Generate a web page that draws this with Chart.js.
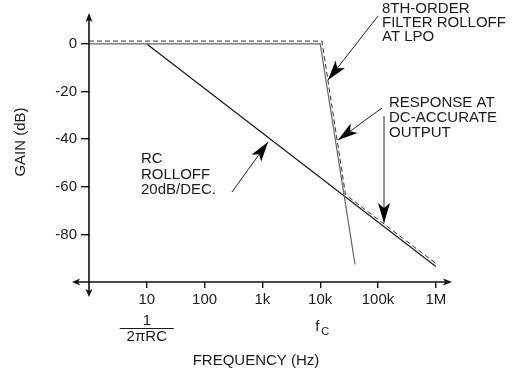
<!DOCTYPE html>
<html>
<head>
<meta charset="utf-8">
<script src="https://cdn.jsdelivr.net/npm/chart.js@4.4.1/dist/chart.umd.min.js"></script>
<style>
html, body { margin: 0; padding: 0; background: #fff; }
#wrap { width: 515px; height: 372px; }
</style>
</head>
<body>
<div id="wrap"><canvas id="bode" width="515" height="372"></canvas></div>
<script>
// ticks
const freqTicks = [10, 100, 1e3, 1e4, 1e5, 1e6];
const freqTickLabels = ['10', '100', '1k', '10k', '100k', '1M'];
const gainTicks = [0, -20, -40, -60, -80];

// RC rolloff (Hz, dB)
const rcFreq = [10, 1e6];
const rcGain = [0, -93.5];

// 8th-order filter at LPO
const filterFreq = [1, 1e4, 4.0e4];
const filterGain = [0, 0, -92.6];

// response at DC-accurate output
const dcFreq = [1, 1.07e4, 2.74e4, 1e6];
const dcGain = [1.2, 1.2, -63.3, -92.2];

const FONT = '"Liberation Sans", Arial, sans-serif';
const INK = '#1a1a1a';

let toPts = (xs, ys) => xs.map((x, i) => ({ x: x, y: ys[i] }));

const data = {
  datasets: [
    {
      label: 'DC-accurate output',
      data: toPts(dcFreq, dcGain),
      borderColor: '#333',
      borderWidth: 1,
      borderDash: [5, 3]
    },
    {
      label: '8th-order filter',
      data: toPts(filterFreq, filterGain),
      borderColor: '#666',
      borderWidth: 1.2
    },
    {
      label: 'RC rolloff',
      data: toPts(rcFreq, rcGain),
      borderColor: '#111',
      borderWidth: 1.1
    }
  ]
};

// little helpers for the arrows
function arrowHead(ctx, tx, ty, fx, fy, len, half) {
  const ang = Math.atan2(ty - fy, tx - fx);
  const c = Math.cos(ang), s = Math.sin(ang);
  const bx = tx - c * len, by = ty - s * len;
  const nx = tx - c * len * 0.75, ny = ty - s * len * 0.75;
  ctx.beginPath();
  ctx.moveTo(tx, ty);
  ctx.lineTo(bx - s * half, by + c * half);
  ctx.lineTo(nx, ny);
  ctx.lineTo(bx + s * half, by - c * half);
  ctx.closePath();
  ctx.fill();
}

function arrow(ctx, fx, fy, tx, ty) {
  ctx.beginPath();
  ctx.moveTo(fx, fy);
  ctx.lineTo(tx, ty);
  ctx.stroke();
  arrowHead(ctx, tx, ty, fx, fy, 20, 6);
}

function textLines(ctx, lines, x, y0, step) {
  lines.forEach((t, i) => ctx.fillText(t, x, y0 + i * step));
}

const extras = {
  id: 'extras',
  afterDraw(chart) {
    const { ctx, chartArea } = chart;
    const xs = chart.scales.x, ys = chart.scales.y;
    const ax = xs.getPixelForValue(1);
    const ay = ys.getPixelForValue(-100);

    ctx.save();
    ctx.strokeStyle = '#111';
    ctx.fillStyle = '#111';
    ctx.lineWidth = 1.6;

    // axes with arrows
    ctx.beginPath();
    ctx.moveTo(ax, chartArea.top + 6);
    ctx.lineTo(ax, ay + 10);
    ctx.moveTo(ax - 12, ay);
    ctx.lineTo(chartArea.right - 6, ay);
    ctx.stroke();
    arrowHead(ctx, ax, chartArea.top, ax, chartArea.top + 10, 9, 3.5);
    arrowHead(ctx, ax, ay + 15, ax, ay, 8, 3.5);
    arrowHead(ctx, ax - 17, ay, ax, ay, 8, 3.5);
    arrowHead(ctx, chartArea.right, ay, chartArea.right - 10, ay, 9, 3.5);

    // annotation arrows
    ctx.lineWidth = 1;
    ctx.strokeStyle = '#222';
    ctx.fillStyle = '#000';
    arrow(ctx, 232, 192, 268, 142);
    arrow(ctx, 378, 16, 328, 80);
    arrow(ctx, 382, 108, 338, 140);
    arrow(ctx, 384, 116, 384, 223);

    // texts
    ctx.fillStyle = INK;
    ctx.font = '15px ' + FONT;
    ctx.textAlign = 'left';
    ctx.textBaseline = 'middle';
    textLines(ctx, ['RC', 'ROLLOFF', '20dB/DEC.'], 141, 159, 15.5);
    textLines(ctx, ['8TH-ORDER', 'FILTER ROLLOFF', 'AT LPO'], 382, 8.5, 14);
    textLines(ctx, ['RESPONSE AT', 'DC-ACCURATE', 'OUTPUT'], 389, 102.5, 15);

    ctx.textAlign = 'center';
    ctx.fillText('FREQUENCY (Hz)', 256, 361);

    // 1 / 2piRC under the 10 Hz tick
    const x10 = xs.getPixelForValue(10);
    ctx.fillText('1', x10, 321);
    ctx.fillText('2\u03c0RC', x10, 337);
    ctx.lineWidth = 1;
    ctx.strokeStyle = INK;
    ctx.beginPath();
    ctx.moveTo(x10 - 27, 328.5);
    ctx.lineTo(x10 + 27, 328.5);
    ctx.stroke();

    // f_C under the 10k tick
    const xc = xs.getPixelForValue(1e4);
    ctx.textAlign = 'left';
    ctx.textBaseline = 'alphabetic';
    ctx.fillText('f', xc - 5, 331);
    ctx.font = '11px ' + FONT;
    ctx.fillText('C', xc + 1, 335);

    // y title
    ctx.font = '15px ' + FONT;
    ctx.translate(21, 142);
    ctx.rotate(-Math.PI / 2);
    ctx.textAlign = 'center';
    ctx.textBaseline = 'middle';
    ctx.fillText('GAIN (dB)', 0, 0);
    ctx.restore();
  }
};

const config = {
  type: 'scatter',
  data,
  options: {
    responsive: false,
    animation: false,
    showLine: true,
    elements: { point: { radius: 0 }, line: { tension: 0 } },
    layout: { padding: { top: 10, right: 63, left: 0, bottom: 0 } },
    plugins: { legend: { display: false }, tooltip: { enabled: false } },
    scales: {
      x: {
        type: 'logarithmic',
        min: 1,
        max: Math.pow(10, 6.28),
        afterBuildTicks: s => { s.ticks = freqTicks.map(v => ({ value: v })); },
        afterFit: s => { s.height = 90; },
        border: { display: false },
        grid: { drawOnChartArea: false, tickLength: 6, color: '#111', lineWidth: 1.4 },
        ticks: {
          autoSkip: false,
          maxRotation: 0,
          padding: 3,
          color: INK,
          font: { family: FONT, size: 15 },
          callback: v => freqTickLabels[freqTicks.indexOf(v)]
        }
      },
      y: {
        min: -100,
        max: 13,
        afterBuildTicks: s => { s.ticks = gainTicks.map(v => ({ value: v })); },
        afterFit: s => { s.width = 89; },
        border: { display: false },
        grid: { drawOnChartArea: false, tickLength: 8, color: '#111', lineWidth: 1.4 },
        ticks: {
          padding: 4,
          color: INK,
          font: { family: FONT, size: 15 }
        }
      }
    }
  },
  plugins: [extras]
};

let bodeChart = new Chart(document.getElementById('bode'), config);
</script>
</body>
</html>
